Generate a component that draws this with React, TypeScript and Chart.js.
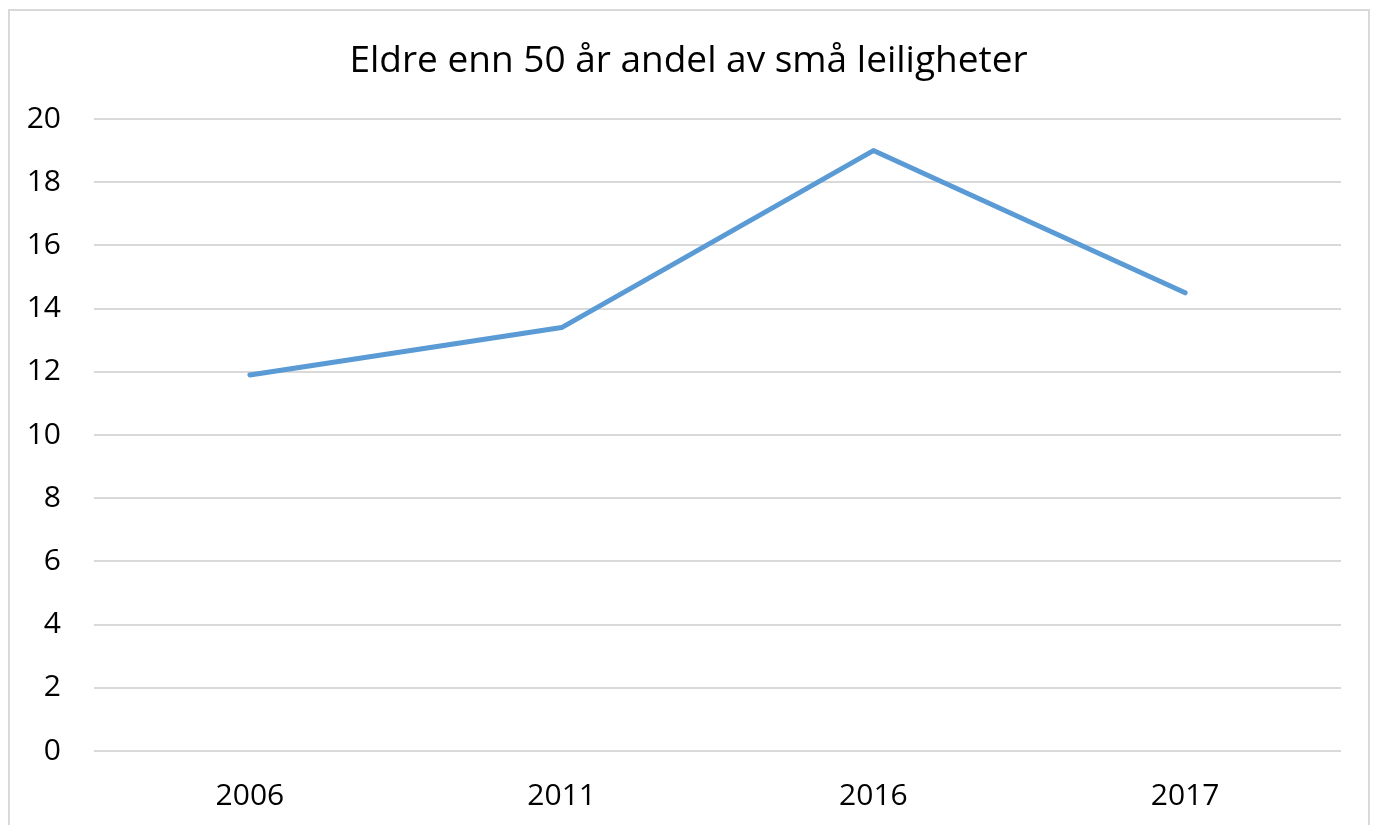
import React, { useEffect, useRef } from "react";
import { Chart, registerables } from "chart.js";

Chart.register(...registerables);

const titleText = "Eldre enn 50 år andel av små leiligheter";
const categories = ["2006", "2011", "2016", "2017"];
const shareValues = [11.9, 13.4, 19.0, 14.5];
const yMin = 0;
const yMax = 20;
const yStep = 2;

const FONT = "'Open Sans', sans-serif";

const titlePlugin = {
  id: "centeredTitle",
  afterDraw(chart: any) {
    const ctx = chart.ctx;
    ctx.save();
    ctx.font = `normal 37px ${FONT}`;
    ctx.fillStyle = "#000";
    ctx.textAlign = "center";
    ctx.textBaseline = "middle";
    ctx.fillText(titleText, chart.width / 2 + 2, 61);
    ctx.restore();
  },
};

export default function App() {
  const canvasRef = useRef<HTMLCanvasElement | null>(null);

  useEffect(() => {
    const canvas = canvasRef.current;
    if (!canvas) return;
    const chart = new Chart(canvas, {
      type: "line",
      data: {
        labels: categories,
        datasets: [
          {
            label: titleText,
            data: shareValues,
            borderColor: "#5b9bd5",
            backgroundColor: "#5b9bd5",
            borderWidth: 5,
            pointRadius: 0,
            pointHoverRadius: 0,
            tension: 0,
            borderCapStyle: "round",
            borderJoinStyle: "round",
            fill: false,
          },
        ],
      },
      options: {
        responsive: false,
        animation: false,
        layout: { padding: { left: 0, right: 32, top: 119, bottom: 0 } },
        plugins: {
          legend: { display: false },
          tooltip: { enabled: false },
          title: { display: false },
        },
        scales: {
          x: {
            offset: true,
            grid: { display: false },
            border: { display: false },
            ticks: {
              color: "#000",
              font: { family: FONT, size: 30 },
              padding: 19,
              maxRotation: 0,
            },
            afterFit: (scale: any) => {
              scale.height = 74;
            },
          },
          y: {
            min: yMin,
            max: yMax,
            grid: { color: "#d9d9d9", lineWidth: 2, drawTicks: false },
            border: { display: false },
            ticks: {
              stepSize: yStep,
              color: "#000",
              font: { family: FONT, size: 30 },
              padding: 33,
            },
            afterFit: (scale: any) => {
              scale.width = 94;
            },
          },
        },
      },
      plugins: [titlePlugin],
    });
    return () => chart.destroy();
  }, []);

  return (
    <div style={{ position: "fixed", left: 0, top: 0, width: 1373, height: 825, background: "#fff", overflow: "hidden" }}>
      <div
        style={{
          position: "absolute",
          left: 8,
          top: 9,
          width: 1362,
          height: 840,
          boxSizing: "border-box",
          border: "2px solid #d9d9d9",
        }}
      />
      <canvas ref={canvasRef} width={1373} height={825} style={{ position: "absolute", left: 0, top: 0 }} />
    </div>
  );
}
